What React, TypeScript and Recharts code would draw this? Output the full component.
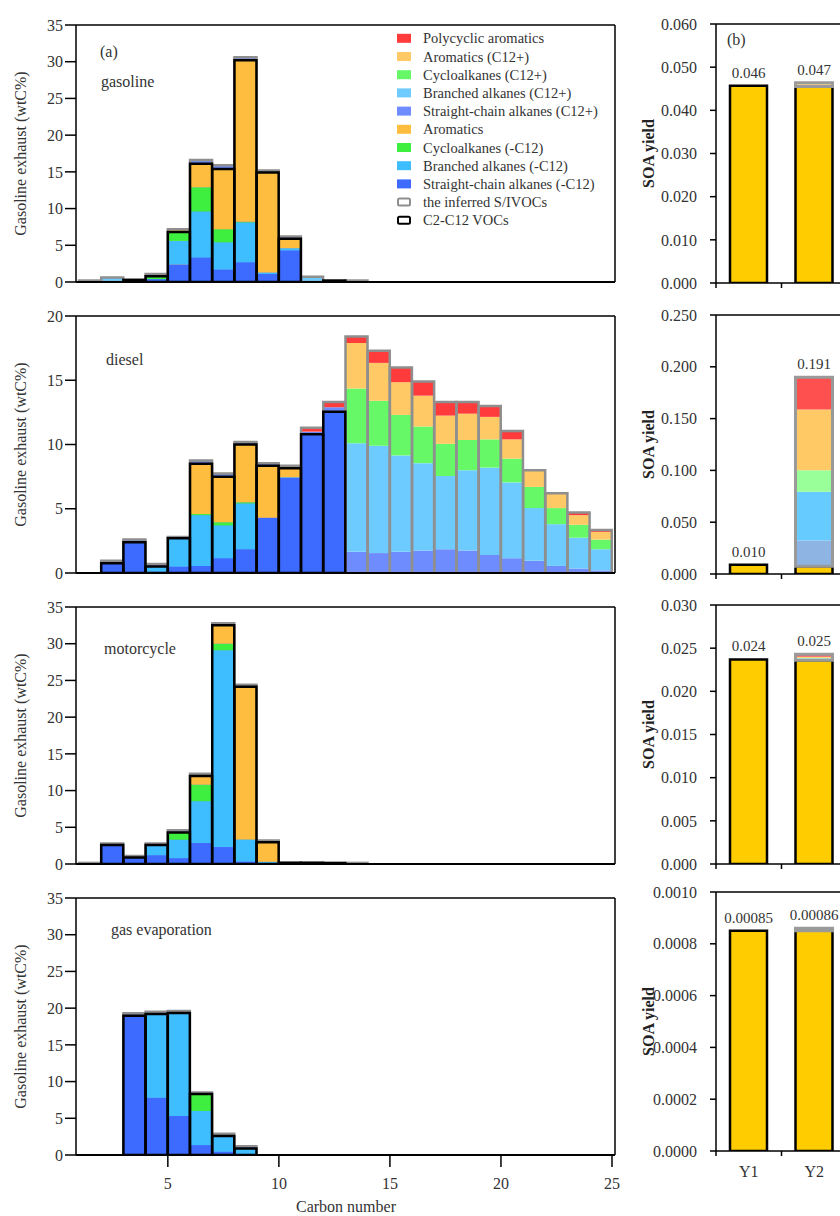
import React from 'react';
import { BarChart, Bar, XAxis, YAxis, LabelList, ReferenceLine } from 'recharts';

const FONT = "'Liberation Serif', 'Times New Roman', serif";
const TXT = '#333';

// ---------- panel (a) data: carbon number C1..C24 ----------
const carbon = [1, 2, 3, 4, 5, 6, 7, 8, 9, 10, 11, 12, 13, 14, 15, 16, 17, 18, 19, 20, 21, 22, 23, 24];
const xTicks = [5, 10, 15, 20, 25];
const yTicks35 = [0, 5, 10, 15, 20, 25, 30, 35];
const yTicks20 = [0, 5, 10, 15, 20];
const none24 = [0, 0, 0, 0, 0, 0, 0, 0, 0, 0, 0, 0, 0, 0, 0, 0, 0, 0, 0, 0, 0, 0, 0, 0];

// gasoline exhaust
const gasSc = [0, 0, 0.3, 0.4, 2.4, 3.35, 1.7, 2.7, 1.1, 4.3, 0, 0.2, 0, 0, 0, 0, 0, 0, 0, 0, 0, 0, 0, 0];
const gasBr = [0, 0, 0, 0, 3.2, 6.25, 3.7, 5.4, 0.2, 0.3, 0, 0, 0, 0, 0, 0, 0, 0, 0, 0, 0, 0, 0, 0];
const gasCy = [0, 0, 0, 0.4, 1.2, 3.3, 1.8, 0.1, 0, 0, 0, 0, 0, 0, 0, 0, 0, 0, 0, 0, 0, 0, 0, 0];
const gasAr = [0, 0, 0, 0, 0, 3.2, 8.2, 22.0, 13.6, 1.3, 0, 0, 0, 0, 0, 0, 0, 0, 0, 0, 0, 0, 0, 0];
const gasSc12 = [0.2, 0, 0, 0, 0, 16.6, 15.9, 30.6, 15.2, 6.2, 0, 0, 0, 0, 0, 0, 0, 0, 0, 0, 0, 0, 0, 0];
const gasBr12 = [0, 0.6, 0, 0, 0, 0, 0, 0, 0, 0, 0.7, 0, 0, 0, 0, 0, 0, 0, 0, 0, 0, 0, 0, 0];
const gasCy12 = [0, 0, 0, 1.1, 0, 0, 0, 0, 0, 0, 0, 0, 0, 0, 0, 0, 0, 0, 0, 0, 0, 0, 0, 0];
const gasAr12 = [0, 0, 0, 0, 7.2, 0, 0, 0, 0, 0, 0, 0, 0, 0, 0, 0, 0, 0, 0, 0, 0, 0, 0, 0];
const gasPah = [0, 0, 0, 0, 0, 0, 0, 0, 0, 0, 0, 0, 0.2, 0, 0, 0, 0, 0, 0, 0, 0, 0, 0, 0];

// diesel
const dSc = [0, 0.75, 2.4, 0.1, 0.5, 0.55, 1.15, 1.85, 4.3, 7.4, 10.8, 12.55, 0, 0, 0, 0, 0, 0, 0, 0, 0, 0, 0, 0];
const dBr = [0, 0, 0, 0.4, 2.2, 3.95, 2.55, 3.55, 0, 0.05, 0, 0, 0, 0, 0, 0, 0, 0, 0, 0, 0, 0, 0, 0];
const dCy = [0, 0, 0, 0, 0, 0.1, 0.25, 0.1, 0, 0, 0, 0, 0, 0, 0, 0, 0, 0, 0, 0, 0, 0, 0, 0];
const dAr = [0, 0, 0, 0, 0, 3.9, 3.55, 4.5, 4.05, 0.7, 0, 0, 0, 0, 0, 0, 0, 0, 0, 0, 0, 0, 0, 0];
const dSc12 = [0, 0.95, 2.6, 0.7, 2.8, 8.75, 7.75, 10.2, 8.55, 8.35, 11.0, 12.9, 1.65, 1.55, 1.65, 1.75, 1.85, 1.75, 1.4, 1.15, 0.95, 0.55, 0.35, 0.2];
const dBr12 = [0, 0, 0, 0, 0, 0, 0, 0, 0, 0, 0, 0, 8.45, 8.35, 7.5, 6.8, 5.7, 6.25, 6.8, 5.9, 4.1, 3.25, 2.4, 1.65];
const dCy12 = [0, 0, 0, 0, 0, 0, 0, 0, 0, 0, 0, 0, 4.25, 3.5, 3.15, 2.85, 2.5, 2.35, 2.2, 1.85, 1.65, 1.25, 1.0, 0.75];
const dAr12 = [0, 0, 0, 0, 0, 0, 0, 0, 0, 0, 0, 0, 3.55, 2.95, 2.55, 2.4, 2.2, 2.05, 1.75, 1.5, 1.3, 1.15, 0.75, 0.6];
const dPah = [0, 0, 0, 0, 0, 0, 0, 0, 0, 0, 0.3, 0.4, 0.5, 0.95, 1.15, 1.1, 1.05, 0.9, 0.85, 0.65, 0, 0, 0.2, 0.15];

// motorcycle
const mSc = [0, 2.6, 0.9, 1.2, 0.8, 2.85, 2.3, 0.35, 0, 0.15, 0.15, 0.1, 0, 0, 0, 0, 0, 0, 0, 0, 0, 0, 0, 0];
const mBr = [0, 0, 0, 1.4, 2.5, 5.7, 26.8, 2.95, 0.3, 0, 0, 0, 0, 0, 0, 0, 0, 0, 0, 0, 0, 0, 0, 0];
const mCy = [0, 0, 0, 0, 1.0, 2.25, 0.9, 0.05, 0, 0, 0, 0, 0, 0, 0, 0, 0, 0, 0, 0, 0, 0, 0, 0];
const mAr = [0, 0, 0, 0, 0, 1.2, 2.5, 20.8, 2.65, 0, 0, 0, 0, 0, 0, 0, 0, 0, 0, 0, 0, 0, 0, 0];
const mSc12 = [0.15, 2.8, 1.1, 2.8, 4.6, 12.3, 32.8, 24.4, 3.2, 0.2, 0.2, 0.2, 0.15, 0, 0, 0, 0, 0, 0, 0, 0, 0, 0, 0];

// gas evaporation
const eSc = [0, 0, 18.95, 7.8, 5.3, 1.35, 0.45, 0.1, 0, 0, 0, 0, 0, 0, 0, 0, 0, 0, 0, 0, 0, 0, 0, 0];
const eBr = [0, 0, 0, 11.4, 14.05, 4.65, 2.15, 0.8, 0, 0, 0, 0, 0, 0, 0, 0, 0, 0, 0, 0, 0, 0, 0, 0];
const eCy = [0, 0, 0, 0, 0, 2.3, 0, 0, 0, 0, 0, 0, 0, 0, 0, 0, 0, 0, 0, 0, 0, 0, 0, 0];
const eSc12 = [0, 0, 19.3, 19.5, 19.6, 8.5, 2.9, 1.2, 0, 0, 0, 0, 0, 0, 0, 0, 0, 0, 0, 0, 0, 0, 0, 0];

// ---------- panel (b) data ----------
const bCats = ['Y1', 'Y2'];
const bGasVoc = [0.0457, 0.0455];
const bGasSc12 = [0, 0.0001];
const bGasBr12 = [0, 0.0002];
const bGasCy12 = [0, 0.0001];
const bGasAr12 = [0, 0.0002];
const bGasPah = [0, 0.0003];
const bGasLabels = ['0.046', '0.047'];

const bDslVoc = [0.009, 0.0075];
const bDslSc12 = [0, 0.0248];
const bDslBr12 = [0, 0.0472];
const bDslCy12 = [0, 0.0206];
const bDslAr12 = [0, 0.0588];
const bDslPah = [0, 0.031];
const bDslLabels = ['0.010', '0.191'];

const bMotVoc = [0.0237, 0.0236];
const bMotSc12 = [0, 0.0001];
const bMotBr12 = [0, 0.0001];
const bMotCy12 = [0, 0.0001];
const bMotAr12 = [0, 0.0001];
const bMotPah = [0, 0.0003];
const bMotLabels = ['0.024', '0.025'];

const bEvaVoc = [0.00085, 0.00085];
const bEvaSc12 = [0, 0.000003];
const bEvaBr12 = [0, 0.000003];
const bEvaCy12 = [0, 0.000002];
const bEvaAr12 = [0, 0.000002];
const bEvaPah = [0, 0];
const bEvaLabels = ['0.00085', '0.00086'];

const bTicksGas = [0, 0.01, 0.02, 0.03, 0.04, 0.05, 0.06];
const bTicksDsl = [0, 0.05, 0.1, 0.15, 0.2, 0.25];
const bTicksMot = [0, 0.005, 0.01, 0.015, 0.02, 0.025, 0.03];
const bTicksEva = [0, 0.0002, 0.0004, 0.0006, 0.0008, 0.001];

// ---------- colours ----------
const C = {
  pah: '#FF3B3B',
  ar12: '#FFC966',
  cy12: '#66F866',
  br12: '#6DCBFF',
  sc12: '#6F8CFF',
  ar: '#FFBD3F',
  cy: '#3FEF3F',
  br: '#3FBEFF',
  sc: '#3D6BFF',
};
const CB = {
  voc: '#FFCC00',
  sc12: '#8DB4E2',
  br12: '#66CCFF',
  cy12: '#99FF99',
  ar12: '#FFC966',
  pah: '#FF5050',
};
const GREY = '#8f8f8f';

const legendItems = [
  { name: 'Polycyclic aromatics', fill: C.pah },
  { name: 'Aromatics (C12+)', fill: C.ar12 },
  { name: 'Cycloalkanes (C12+)', fill: C.cy12 },
  { name: 'Branched alkanes (C12+)', fill: C.br12 },
  { name: 'Straight-chain alkanes (C12+)', fill: C.sc12 },
  { name: 'Aromatics', fill: C.ar },
  { name: 'Cycloalkanes (-C12)', fill: C.cy },
  { name: 'Branched alkanes (-C12)', fill: C.br },
  { name: 'Straight-chain alkanes (-C12)', fill: C.sc },
  { name: 'the inferred S/IVOCs', outline: GREY },
  { name: 'C2-C12 VOCs', outline: '#000' },
];

function rowsA(sc: number[], br: number[], cy: number[], ar: number[], sc12: number[], br12: number[], cy12: number[], ar12: number[], pah: number[]) {
  return carbon.map((c, i) => ({
    c,
    sc: sc[i], br: br[i], cy: cy[i], ar: ar[i],
    sc12: sc12[i], br12: br12[i], cy12: cy12[i], ar12: ar12[i], pah: pah[i],
    vocT: sc[i] + br[i] + cy[i] + ar[i],
    ivocT: sc12[i] + br12[i] + cy12[i] + ar12[i] + pah[i],
  }));
}

function rowsB(voc: number[], sc12: number[], br12: number[], cy12: number[], ar12: number[], pah: number[], labels: string[]) {
  return bCats.map((k, i) => {
    const iv = sc12[i] + br12[i] + cy12[i] + ar12[i] + pah[i];
    return {
      k, voc: voc[i], sc12: sc12[i], br12: br12[i], cy12: cy12[i], ar12: ar12[i], pah: pah[i],
      total: voc[i] + iv,
      ivoc: [voc[i], voc[i] + iv],
      label: labels[i],
    };
  });
}

const PLOT_H = 257;
const BAND = 533 / 24;
const XDOM: [number, number] = [1 - 3 / BAND, 25 + 3 / BAND];
const axisStroke = { stroke: '#000', strokeWidth: 1.5 };

type LeftProps = {
  plotTop: number; rows: any[]; yMax: number; yTicks: number[]; name: string;
  nameX: number; nameY: number; first?: boolean; last?: boolean;
};

function LeftPanel({ plotTop, rows, yMax, yTicks, name, nameX, nameY, first, last }: LeftProps) {
  const chartTop = plotTop - 25;
  const bottomH = last ? 75 : 22;
  const height = 25 + PLOT_H + bottomH;
  const cy = 25 + PLOT_H / 2;
  const decor = () => (
    <g fontFamily={FONT}>
      <text x={20} y={cy} transform={`rotate(-90 20 ${cy})`} textAnchor="middle" dominantBaseline="central" fontSize={16} fill={TXT}>
        Gasoline exhaust (wtC%)
      </text>
      {first && <text x={100} y={57} fontSize={16} fill={TXT}>(a)</text>}
      <text x={nameX} y={nameY - chartTop} fontSize={16} fill={TXT}>{name}</text>
      {last && (
        <text x={346} y={1212 - chartTop} textAnchor="middle" fontSize={16} fill={TXT}>Carbon number</text>
      )}
      {first &&
        legendItems.map((it, i) => {
          const y = 38.3 + i * 18.2;
          return (
            <g key={it.name}>
              {it.fill ? (
                <rect x={397} y={y - 4.5} width={14} height={9} fill={it.fill} />
              ) : (
                <rect x={398} y={y - 3.5} width={12} height={7} rx={1.5} fill="#fff" stroke={it.outline} strokeWidth={2} />
              )}
              <text x={423} y={y} dominantBaseline="central" fontSize={14.5} fill={TXT}>{it.name}</text>
            </g>
          );
        })}
    </g>
  );
  const cat = (id: string) => (
    <XAxis key={id} xAxisId={id} dataKey="c" type="category" hide padding={{ left: 3, right: 3 }} />
  );
  return (
    <div style={{ position: 'absolute', left: 0, top: chartTop }}>
      <BarChart width={640} height={height} data={rows} margin={{ top: 10, right: 0, bottom: 0, left: 0 }} barCategoryGap={0} barGap={0}>
        {cat('ia')}
        {cat('io')}
        {cat('va')}
        {cat('vo')}
        <XAxis xAxisId="top" orientation="top" type="number" dataKey="c" domain={XDOM} allowDataOverflow ticks={xTicks} interval={0}
          tick={false} tickSize={13} height={15} axisLine={axisStroke} tickLine={axisStroke} />
        <XAxis xAxisId="bot" orientation="bottom" type="number" dataKey="c" domain={XDOM} allowDataOverflow ticks={xTicks} interval={0}
          tick={last ? { fontSize: 16, fill: TXT, fontFamily: FONT } : false} tickSize={12} tickMargin={11}
          height={bottomH} axisLine={{ stroke: '#000', strokeWidth: 2.2 }} tickLine={axisStroke} />
        <YAxis yAxisId="l" domain={[0, yMax]} allowDataOverflow ticks={yTicks} interval={0} width={76}
          tickSize={11} tickMargin={2} tick={{ fontSize: 16, fill: TXT, fontFamily: FONT }}
          axisLine={axisStroke} tickLine={axisStroke} label={decor} />
        <YAxis yAxisId="r" orientation="right" domain={[0, yMax]} allowDataOverflow ticks={yTicks} interval={0} width={25}
          tickSize={12} tick={false} axisLine={axisStroke} tickLine={axisStroke} />

        <Bar xAxisId="ia" yAxisId="l" stackId="i" dataKey="sc12" fill={C.sc12} isAnimationActive={false} />
        <Bar xAxisId="ia" yAxisId="l" stackId="i" dataKey="br12" fill={C.br12} isAnimationActive={false} />
        <Bar xAxisId="ia" yAxisId="l" stackId="i" dataKey="cy12" fill={C.cy12} isAnimationActive={false} />
        <Bar xAxisId="ia" yAxisId="l" stackId="i" dataKey="ar12" fill={C.ar12} isAnimationActive={false} />
        <Bar xAxisId="ia" yAxisId="l" stackId="i" dataKey="pah" fill={C.pah} isAnimationActive={false} />
        <Bar xAxisId="io" yAxisId="l" dataKey="ivocT" fill="none" stroke={GREY} strokeWidth={2.5} isAnimationActive={false} />

        <Bar xAxisId="va" yAxisId="l" stackId="v" dataKey="sc" fill={C.sc} isAnimationActive={false} />
        <Bar xAxisId="va" yAxisId="l" stackId="v" dataKey="br" fill={C.br} isAnimationActive={false} />
        <Bar xAxisId="va" yAxisId="l" stackId="v" dataKey="cy" fill={C.cy} isAnimationActive={false} />
        <Bar xAxisId="va" yAxisId="l" stackId="v" dataKey="ar" fill={C.ar} isAnimationActive={false} />
        <Bar xAxisId="vo" yAxisId="l" dataKey="vocT" fill="none" stroke="#000" strokeWidth={2.5} isAnimationActive={false} />
      </BarChart>
    </div>
  );
}

type RightProps = {
  plotTop: number; rows: any[]; yMax: number; yTicks: number[]; digits: number; first?: boolean; last?: boolean;
};

function RightPanel({ plotTop, rows, yMax, yTicks, digits, first, last }: RightProps) {
  const PH = 259;
  const bottomH = last ? 40 : 12;
  const height = 10 + PH + bottomH;
  const yb = 10 + PH;
  const cy = 10 + PH / 2;
  const decor = () => (
    <g fontFamily={FONT}>
      <text x={18} y={cy} transform={`rotate(-90 18 ${cy})`} textAnchor="middle" dominantBaseline="central" fontSize={16} fontWeight="bold" fill="#222">
        SOA yield
      </text>
      {first && <text x={97} y={31} fontSize={16} fill={TXT}>(b)</text>}
    </g>
  );
  const tickFn = (p: any) => {
    const v = p.payload.value;
    if (Number.isInteger(v)) {
      return <line x1={p.x} x2={p.x} y1={yb} y2={yb + 5} stroke="#000" strokeWidth={1.5} />;
    }
    if (!last) return <g />;
    return (
      <text x={p.x} y={yb + 26} textAnchor="middle" fontSize={16} fill={TXT} fontFamily={FONT}>
        {bCats[Math.round(v - 0.5)]}
      </text>
    );
  };
  return (
    <div style={{ position: 'absolute', left: 630, top: plotTop - 10 }}>
      <BarChart width={230} height={height} data={rows} margin={{ top: 10, right: 13, bottom: 0, left: 0 }} barSize={37}>
        <XAxis xAxisId="t" dataKey="k" type="category" hide />
        <XAxis xAxisId="s" dataKey="k" type="category" hide />
        <XAxis xAxisId="o" dataKey="k" type="category" hide />
        <XAxis xAxisId="n" type="number" dataKey="total" domain={[0, 2]} allowDataOverflow ticks={[0, 0.5, 1, 1.5, 2]} interval={0}
          tick={tickFn} tickLine={false} height={bottomH} axisLine={axisStroke} />
        <YAxis yAxisId="l" domain={[0, yMax]} allowDataOverflow ticks={yTicks} interval={0} width={86}
          tickSize={6} tickMargin={13} tickFormatter={(v: number) => v.toFixed(digits)}
          tick={{ fontSize: 16, fill: TXT, fontFamily: FONT }} axisLine={axisStroke} tickLine={axisStroke} label={decor} />
        <ReferenceLine xAxisId="s" yAxisId="l" y={yMax} stroke="#000" strokeWidth={1.5} />

        <Bar xAxisId="t" yAxisId="l" dataKey="total" fill="none" isAnimationActive={false}>
          <LabelList dataKey="label" position="top" offset={8} fontSize={15} fill={TXT} fontFamily={FONT} />
        </Bar>
        <Bar xAxisId="s" yAxisId="l" stackId="b" dataKey="voc" fill={CB.voc} stroke="#000" strokeWidth={2.5} isAnimationActive={false} />
        <Bar xAxisId="s" yAxisId="l" stackId="b" dataKey="sc12" fill={CB.sc12} isAnimationActive={false} />
        <Bar xAxisId="s" yAxisId="l" stackId="b" dataKey="br12" fill={CB.br12} isAnimationActive={false} />
        <Bar xAxisId="s" yAxisId="l" stackId="b" dataKey="cy12" fill={CB.cy12} isAnimationActive={false} />
        <Bar xAxisId="s" yAxisId="l" stackId="b" dataKey="ar12" fill={CB.ar12} isAnimationActive={false} />
        <Bar xAxisId="s" yAxisId="l" stackId="b" dataKey="pah" fill={CB.pah} isAnimationActive={false} />
        <Bar xAxisId="o" yAxisId="l" dataKey="ivoc" fill="none" stroke="#9a9a9a" strokeWidth={3} isAnimationActive={false} />
      </BarChart>
    </div>
  );
}

export default function App() {
  const gas = rowsA(gasSc, gasBr, gasCy, gasAr, gasSc12, gasBr12, gasCy12, gasAr12, gasPah);
  const dsl = rowsA(dSc, dBr, dCy, dAr, dSc12, dBr12, dCy12, dAr12, dPah);
  const mot = rowsA(mSc, mBr, mCy, mAr, mSc12, none24, none24, none24, none24);
  const eva = rowsA(eSc, eBr, eCy, none24, eSc12, none24, none24, none24, none24);
  return (
    <div style={{ position: 'fixed', left: 0, top: 0, width: 840, height: 1216, overflow: 'hidden', background: '#fff' }}>
      <LeftPanel plotTop={25} rows={gas} yMax={35} yTicks={yTicks35} name="gasoline" nameX={101} nameY={87} first />
      <LeftPanel plotTop={316} rows={dsl} yMax={20} yTicks={yTicks20} name="diesel" nameX={106} nameY={365} />
      <LeftPanel plotTop={607} rows={mot} yMax={35} yTicks={yTicks35} name="motorcycle" nameX={104} nameY={654} />
      <LeftPanel plotTop={898} rows={eva} yMax={35} yTicks={yTicks35} name="gas evaporation" nameX={111} nameY={935} last />

      <RightPanel plotTop={24} rows={rowsB(bGasVoc, bGasSc12, bGasBr12, bGasCy12, bGasAr12, bGasPah, bGasLabels)} yMax={0.06} yTicks={bTicksGas} digits={3} first />
      <RightPanel plotTop={315} rows={rowsB(bDslVoc, bDslSc12, bDslBr12, bDslCy12, bDslAr12, bDslPah, bDslLabels)} yMax={0.25} yTicks={bTicksDsl} digits={3} />
      <RightPanel plotTop={605} rows={rowsB(bMotVoc, bMotSc12, bMotBr12, bMotCy12, bMotAr12, bMotPah, bMotLabels)} yMax={0.03} yTicks={bTicksMot} digits={3} />
      <RightPanel plotTop={892} rows={rowsB(bEvaVoc, bEvaSc12, bEvaBr12, bEvaCy12, bEvaAr12, bEvaPah, bEvaLabels)} yMax={0.001} yTicks={bTicksEva} digits={4} last />
    </div>
  );
}
